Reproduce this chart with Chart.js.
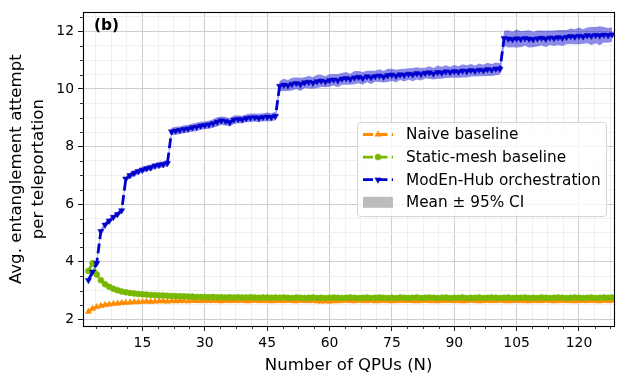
<!DOCTYPE html>
<html>
<head>
<meta charset="utf-8">
<title>Avg. entanglement attempt per teleportation</title>
<script src="https://cdn.jsdelivr.net/npm/chart.js@4.4.1/dist/chart.umd.min.js"></script>
<style>
  html, body { margin: 0; padding: 0; background: #fff; }
  #wrap { width: 623px; height: 384px; }
</style>
</head>
<body>
<div id="wrap"><canvas id="chart" width="623" height="384"></canvas></div>
<script>
/* Panel (b) — avg. entanglement attempts per teleportation vs number of QPUs */

var N_QPUS = [
  2, 3, 4, 5, 6, 7, 8, 9, 10, 11,
  12, 13, 14, 15, 16, 17, 18, 19, 20, 21,
  22, 23, 24, 25, 26, 27, 28, 29, 30, 31,
  32, 33, 34, 35, 36, 37, 38, 39, 40, 41,
  42, 43, 44, 45, 46, 47, 48, 49, 50, 51,
  52, 53, 54, 55, 56, 57, 58, 59, 60, 61,
  62, 63, 64, 65, 66, 67, 68, 69, 70, 71,
  72, 73, 74, 75, 76, 77, 78, 79, 80, 81,
  82, 83, 84, 85, 86, 87, 88, 89, 90, 91,
  92, 93, 94, 95, 96, 97, 98, 99, 100, 101,
  102, 103, 104, 105, 106, 107, 108, 109, 110, 111,
  112, 113, 114, 115, 116, 117, 118, 119, 120, 121,
  122, 123, 124, 125, 126, 127, 128
];

var NAIVE = [
  2.27, 2.37, 2.43, 2.47, 2.50, 2.52, 2.54, 2.55, 2.57, 2.58,
  2.59, 2.60, 2.60, 2.61, 2.62, 2.61, 2.62, 2.63, 2.63, 2.62,
  2.64, 2.63, 2.64, 2.64, 2.63, 2.65, 2.64, 2.64, 2.65, 2.64,
  2.65, 2.64, 2.63, 2.65, 2.64, 2.65, 2.64, 2.65, 2.63, 2.64,
  2.65, 2.64, 2.64, 2.65, 2.63, 2.64, 2.65, 2.64, 2.65, 2.64,
  2.63, 2.65, 2.64, 2.64, 2.65, 2.63, 2.62, 2.63, 2.62, 2.64,
  2.63, 2.64, 2.65, 2.64, 2.63, 2.65, 2.64, 2.64, 2.65, 2.63,
  2.64, 2.65, 2.64, 2.63, 2.64, 2.65, 2.64, 2.65, 2.64, 2.63,
  2.64, 2.65, 2.64, 2.64, 2.63, 2.65, 2.64, 2.65, 2.64, 2.64,
  2.63, 2.64, 2.65, 2.64, 2.63, 2.64, 2.65, 2.64, 2.64, 2.65,
  2.64, 2.63, 2.64, 2.65, 2.64, 2.64, 2.63, 2.65, 2.64, 2.64,
  2.65, 2.64, 2.63, 2.64, 2.65, 2.64, 2.64, 2.63, 2.65, 2.64,
  2.64, 2.65, 2.64, 2.63, 2.65, 2.64, 2.65
];

var STATIC_MESH = [
  3.68, 3.95, 3.56, 3.36, 3.22, 3.13, 3.06, 3.01, 2.97, 2.94,
  2.92, 2.90, 2.88, 2.87, 2.86, 2.85, 2.84, 2.83, 2.83, 2.82,
  2.81, 2.81, 2.80, 2.80, 2.79, 2.79, 2.78, 2.78, 2.78, 2.77,
  2.78, 2.77, 2.77, 2.76, 2.77, 2.76, 2.77, 2.76, 2.76, 2.77,
  2.76, 2.75, 2.76, 2.76, 2.75, 2.76, 2.75, 2.76, 2.75, 2.74,
  2.76, 2.75, 2.74, 2.75, 2.76, 2.74, 2.75, 2.74, 2.75, 2.76,
  2.75, 2.74, 2.75, 2.76, 2.75, 2.74, 2.75, 2.76, 2.74, 2.75,
  2.76, 2.75, 2.74, 2.75, 2.74, 2.76, 2.75, 2.74, 2.75, 2.76,
  2.74, 2.75, 2.76, 2.75, 2.74, 2.75, 2.76, 2.74, 2.75, 2.75,
  2.76, 2.74, 2.75, 2.75, 2.76, 2.74, 2.75, 2.76, 2.75, 2.74,
  2.75, 2.76, 2.74, 2.75, 2.75, 2.76, 2.74, 2.75, 2.74, 2.76,
  2.75, 2.74, 2.75, 2.76, 2.75, 2.74, 2.75, 2.76, 2.75, 2.74,
  2.75, 2.76, 2.74, 2.75, 2.76, 2.75, 2.76
];

var MODEN_HUB = [
  3.36, 3.65, 3.95, 5.06, 5.28, 5.42, 5.55, 5.65, 5.78, 6.88,
  7.00, 7.08, 7.14, 7.19, 7.24, 7.27, 7.33, 7.36, 7.38, 7.42,
  8.52, 8.55, 8.57, 8.60, 8.62, 8.66, 8.68, 8.72, 8.74, 8.76,
  8.80, 8.86, 8.90, 8.88, 8.84, 8.93, 8.95, 8.94, 8.98, 9.00,
  9.01, 8.99, 9.02, 9.03, 9.02, 9.06, 10.10, 10.14, 10.12, 10.17,
  10.20, 10.16, 10.22, 10.24, 10.21, 10.26, 10.28, 10.25, 10.30, 10.32,
  10.29, 10.35, 10.37, 10.34, 10.39, 10.41, 10.37, 10.43, 10.40, 10.44,
  10.46, 10.42, 10.47, 10.49, 10.45, 10.50, 10.48, 10.52, 10.50, 10.54,
  10.51, 10.55, 10.57, 10.53, 10.58, 10.56, 10.60, 10.58, 10.61, 10.59,
  10.63, 10.61, 10.65, 10.62, 10.66, 10.64, 10.68, 10.66, 10.70, 10.69,
  11.76, 11.74, 11.72, 11.75, 11.73, 11.76, 11.74, 11.72, 11.75, 11.77,
  11.74, 11.78, 11.76, 11.79, 11.77, 11.80, 11.83, 11.81, 11.84, 11.82,
  11.86, 11.84, 11.87, 11.85, 11.88, 11.86, 11.89
];

/* half-width of the 95% CI around MODEN_HUB */
var MODEN_HUB_CI = [
  0.06, 0.06, 0.07, 0.08, 0.08, 0.08, 0.09, 0.08, 0.09, 0.10,
  0.10, 0.11, 0.10, 0.11, 0.10, 0.11, 0.10, 0.11, 0.11, 0.11,
  0.13, 0.14, 0.13, 0.14, 0.13, 0.14, 0.15, 0.14, 0.13, 0.14,
  0.15, 0.16, 0.14, 0.15, 0.14, 0.15, 0.14, 0.13, 0.14, 0.15,
  0.14, 0.15, 0.14, 0.15, 0.14, 0.15, 0.18, 0.21, 0.19, 0.22,
  0.20, 0.23, 0.19, 0.22, 0.20, 0.23, 0.21, 0.19, 0.22, 0.20,
  0.23, 0.20, 0.22, 0.19, 0.23, 0.21, 0.22, 0.20, 0.23, 0.19,
  0.22, 0.20, 0.23, 0.21, 0.22, 0.19, 0.22, 0.20, 0.23, 0.21,
  0.22, 0.19, 0.22, 0.20, 0.23, 0.21, 0.22, 0.19, 0.22, 0.20,
  0.23, 0.21, 0.22, 0.19, 0.22, 0.20, 0.23, 0.21, 0.22, 0.20,
  0.26, 0.30, 0.27, 0.31, 0.28, 0.26, 0.30, 0.27, 0.28, 0.26,
  0.28, 0.25, 0.27, 0.26, 0.28, 0.25, 0.27, 0.26, 0.29, 0.25,
  0.27, 0.31, 0.28, 0.33, 0.27, 0.26, 0.25
];

var SERIES_LABELS = ['Naive baseline', 'Static-mesh baseline', 'ModEn-Hub orchestration', 'Mean \u00b1 95% CI'];
var X_TICKS = [15, 30, 45, 60, 75, 90, 105, 120];
var Y_TICKS = [2, 4, 6, 8, 10, 12];
var X_RANGE = [0.7, 128.5];
var Y_RANGE = [1.77, 12.66];

(function () {
  'use strict';

  var FONT = '"DejaVu Sans", "Liberation Sans", sans-serif';
  var COLORS = {
    naive: '#ff8c00',
    mesh: '#76b900',
    hub: '#0000cd',
    band: 'rgba(0, 0, 205, 0.45)',
    ciPatch: '#bdbdbd',
    gridMajor: '#c9c9c9',
    gridMinor: '#ececec'
  };
  var DASH = [10, 4.4];

  function points(values) {
    return N_QPUS.map(function (n, i) { return { x: n, y: values[i] }; });
  }

  function bandEdge(sign) {
    return N_QPUS.map(function (n, i) { return { x: n, y: MODEN_HUB[i] + sign * MODEN_HUB_CI[i] }; });
  }

  function markerRadius(style) {
    return style === 'circle' ? 3 : 3.6;
  }

  function lineSet(label, values, color, style, rotation, order) {
    return {
      label: label,
      data: points(values),
      borderColor: color,
      backgroundColor: color,
      borderWidth: 2.8,
      borderDash: DASH,
      pointStyle: style,
      pointRotation: rotation,
      pointRadius: markerRadius(style),
      pointBackgroundColor: color,
      pointBorderColor: color,
      pointBorderWidth: 0.5,
      fill: false,
      tension: 0,
      order: order
    };
  }

  function stepTicks(scale, step) {
    var ticks = [];
    var v = Math.ceil(scale.min / step) * step;
    for (; v <= scale.max + 1e-9; v += step) ticks.push({ value: v });
    scale.ticks = ticks;
  }

  function isMajor(list, v) {
    return list.indexOf(v) !== -1;
  }

  /* frame, minor tick marks and the panel letter */
  var decorPlugin = {
    id: 'decor',
    afterDraw: function (chart) {
      var ctx = chart.ctx, a = chart.chartArea;
      var xs = chart.scales.x, ys = chart.scales.y;
      ctx.save();
      ctx.strokeStyle = '#000';
      ctx.lineWidth = 0.8;
      xs.ticks.forEach(function (t) {
        if (isMajor(X_TICKS, t.value)) return;
        var px = Math.round(xs.getPixelForValue(t.value)) + 0.5;
        ctx.beginPath();
        ctx.moveTo(px, a.bottom);
        ctx.lineTo(px, a.bottom + 3);
        ctx.stroke();
      });
      ys.ticks.forEach(function (t) {
        if (isMajor(Y_TICKS, t.value)) return;
        var py = Math.round(ys.getPixelForValue(t.value)) + 0.5;
        ctx.beginPath();
        ctx.moveTo(a.left, py);
        ctx.lineTo(a.left - 3, py);
        ctx.stroke();
      });

      ctx.lineWidth = 1.1;
      ctx.strokeRect(Math.round(a.left) + 0.5, Math.round(a.top) + 0.5,
        Math.round(a.right - a.left), Math.round(a.bottom - a.top));

      ctx.fillStyle = '#000';
      ctx.font = 'bold 15.3px ' + FONT;
      ctx.textAlign = 'left';
      ctx.textBaseline = 'middle';
      ctx.fillText('(b)', a.left + 11, a.top + 14);
      ctx.restore();
    }
  };

  /* legend drawn inside the plot, matplotlib style */
  var legendPlugin = {
    id: 'insideLegend',
    afterDraw: function (chart) {
      var ctx = chart.ctx, a = chart.chartArea;
      var left = Math.round(a.right - 257), top = Math.round(a.top + 110);
      var width = 249, height = 94;
      var entries = [
        { label: SERIES_LABELS[0], color: COLORS.naive, style: 'triangle', rotation: 0 },
        { label: SERIES_LABELS[1], color: COLORS.mesh, style: 'circle', rotation: 0 },
        { label: SERIES_LABELS[2], color: COLORS.hub, style: 'triangle', rotation: 180 },
        { label: SERIES_LABELS[3], patch: true }
      ];

      ctx.save();
      ctx.beginPath();
      ctx.roundRect(left + 0.5, top + 0.5, width, height, 3);
      ctx.fillStyle = 'rgba(255, 255, 255, 0.8)';
      ctx.fill();
      ctx.strokeStyle = '#d5d5d5';
      ctx.lineWidth = 1;
      ctx.stroke();

      entries.forEach(function (e, i) {
        var y = top + 12.5 + i * 22.6;
        if (e.patch) {
          ctx.fillStyle = COLORS.ciPatch;
          ctx.fillRect(left + 6, y - 5.5, 30, 11);
        } else {
          ctx.setLineDash(DASH);
          ctx.lineWidth = 2.8;
          ctx.strokeStyle = e.color;
          ctx.beginPath();
          ctx.moveTo(left + 6, y);
          ctx.lineTo(left + 36, y);
          ctx.stroke();
          ctx.setLineDash([]);
          ctx.fillStyle = e.color;
          ctx.lineWidth = 0.5;
          Chart.helpers.drawPoint(ctx, {
            pointStyle: e.style, rotation: e.rotation,
            radius: markerRadius(e.style), borderWidth: 0.5
          }, left + 21, y);
        }
        ctx.fillStyle = '#000';
        ctx.font = '15.3px ' + FONT;
        ctx.textAlign = 'left';
        ctx.textBaseline = 'middle';
        ctx.fillText(e.label, left + 49, y + 1);
      });
      ctx.restore();
    }
  };

  var datasets = [
    lineSet(SERIES_LABELS[0], NAIVE, COLORS.naive, 'triangle', 0, 2),
    lineSet(SERIES_LABELS[1], STATIC_MESH, COLORS.mesh, 'circle', 0, 1),
    lineSet(SERIES_LABELS[2], MODEN_HUB, COLORS.hub, 'triangle', 180, 0),
    {
      label: 'ci-upper',
      data: bandEdge(1),
      borderWidth: 0,
      pointRadius: 0,
      backgroundColor: COLORS.band,
      fill: '+1',
      order: 3
    },
    {
      label: 'ci-lower',
      data: bandEdge(-1),
      borderWidth: 0,
      pointRadius: 0,
      fill: false,
      order: 4
    }
  ];

  new Chart(document.getElementById('chart'), {
    type: 'line',
    data: { datasets: datasets },
    plugins: [decorPlugin, legendPlugin],
    options: {
      responsive: false,
      animation: false,
      events: [],
      layout: { padding: { top: 10, right: 8.7, bottom: 0, left: 0 } },
      plugins: { legend: { display: false }, tooltip: { enabled: false } },
      scales: {
        x: {
          type: 'linear',
          min: X_RANGE[0],
          max: X_RANGE[1],
          afterBuildTicks: function (s) { stepTicks(s, 3.75); },
          afterFit: function (s) { s.height = 58; },
          border: { display: false },
          grid: {
            color: function (c) { return isMajor(X_TICKS, c.tick.value) ? COLORS.gridMajor : COLORS.gridMinor; },
            lineWidth: function (c) { return isMajor(X_TICKS, c.tick.value) ? 0.9 : 0.8; },
            tickColor: function (c) { return isMajor(X_TICKS, c.tick.value) ? '#000' : 'rgba(0,0,0,0)'; },
            tickLength: 5,
            tickWidth: 0.9
          },
          ticks: {
            autoSkip: false,
            maxRotation: 0,
            padding: 4,
            color: '#000',
            font: { family: FONT, size: 13.9 },
            callback: function (v) { return isMajor(X_TICKS, v) ? String(v) : ''; }
          },
          title: {
            display: true,
            text: 'Number of QPUs (N)',
            color: '#000',
            font: { family: FONT, size: 16.6 },
            padding: { top: 0, bottom: 8 }
          }
        },
        y: {
          type: 'linear',
          min: Y_RANGE[0],
          max: Y_RANGE[1],
          afterBuildTicks: function (s) { stepTicks(s, 0.5); },
          afterFit: function (s) { s.width = 83; },
          border: { display: false },
          grid: {
            color: function (c) { return isMajor(Y_TICKS, c.tick.value) ? COLORS.gridMajor : COLORS.gridMinor; },
            lineWidth: function (c) { return isMajor(Y_TICKS, c.tick.value) ? 0.9 : 0.8; },
            tickColor: function (c) { return isMajor(Y_TICKS, c.tick.value) ? '#000' : 'rgba(0,0,0,0)'; },
            tickLength: 5,
            tickWidth: 0.9
          },
          ticks: {
            autoSkip: false,
            padding: 4,
            color: '#000',
            font: { family: FONT, size: 13.9 },
            callback: function (v) { return isMajor(Y_TICKS, v) ? String(v) : ''; }
          },
          title: {
            display: true,
            text: ['Avg. entanglement attempt', 'per teleportation'],
            color: '#000',
            font: { family: FONT, size: 16.6, lineHeight: 1.325 },
            padding: { top: 6, bottom: 0 }
          }
        }
      }
    }
  });
})();
</script>
</body>
</html>
